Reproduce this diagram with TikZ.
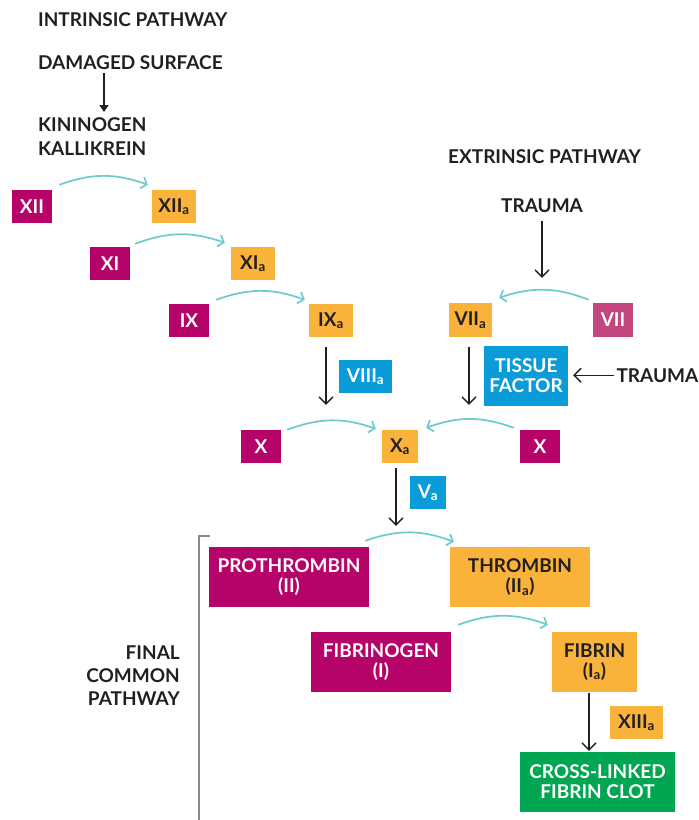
\documentclass[tikz,border=0pt]{standalone}
\usepackage{fontspec}
\setmainfont{Lato}
\usepackage{tikz}
\usetikzlibrary{arrows.meta}

\definecolor{ink}{HTML}{231F20}
\definecolor{zymogen}{HTML}{B5036A}
\definecolor{zymogenlt}{HTML}{C2477F}
\definecolor{enzyme}{HTML}{F9B33B}
\definecolor{cofactor}{HTML}{0A9CD8}
\definecolor{clotgreen}{HTML}{00A651}
\definecolor{convert}{HTML}{6DCBCB}
\definecolor{bracket}{HTML}{8A8A8A}

\tikzset{
  lbl/.style={font=\bfseries\fontsize{19}{20}\selectfont, text=ink, inner sep=0pt},
  box/.style={lbl, minimum height=33pt, align=center},
  inact/.style={box, fill=zymogen, text=white},
  act/.style={box, fill=enzyme, text=ink},
  cof/.style={box, fill=cofactor, text=white},
  conv/.style={draw=convert, line width=1.7pt, -{Straight Barb[length=5pt,width=12pt]}},
  flow/.style={draw=ink, line width=1.4pt, -{Straight Barb[length=7pt,width=14pt]}},
}

\begin{document}
\begin{tikzpicture}[x=1pt,y=-1pt]
\useasboundingbox (0,0) rectangle (699,820);

% headings
\node[lbl, anchor=base west] (intr) at (38,26.7) {INTRINSIC PATHWAY};
\node[lbl, anchor=base west] (dmg) at (38,69) {DAMAGED SURFACE};
\node[lbl, anchor=north west, align=left, font=\bfseries\fontsize{19}{24}\selectfont] (kin) at (38,117.7) {KININOGEN\\KALLIKREIN};
\node[lbl, anchor=base west] (extr) at (448,163) {EXTRINSIC PATHWAY};
\node[lbl, anchor=base] (trauma) at (542,212) {TRAUMA};
\node[lbl, anchor=base east] (trauma2) at (698.5,382) {TRAUMA};
\node[lbl, anchor=north east, align=right, font=\bfseries\fontsize{19}{23}\selectfont] (final) at (180,646) {FINAL\\COMMON\\PATHWAY};

% intrinsic cascade
\node[inact, minimum width=40pt] (xii) at (32,206.5) {XII};
\node[act, minimum width=44pt] (xiia) at (174,206.5) {XII\textsubscript{a}};
\node[inact, minimum width=40pt] (xi) at (110,263.5) {XI};
\node[act, minimum width=44pt] (xia) at (253,263.5) {XI\textsubscript{a}};
\node[inact, minimum width=40pt] (ix) at (189,320.5) {IX};
\node[act, minimum width=44pt] (ixa) at (331,320.5) {IX\textsubscript{a}};
\node[cof, minimum width=53pt] (viiia) at (365.5,376.5) {VIII\textsubscript{a}};

% extrinsic side
\node[act, minimum width=43pt, minimum height=34pt] (viia) at (470.5,320) {VII\textsubscript{a}};
\node[inact, fill=zymogenlt, minimum width=40pt, minimum height=34pt] (vii) at (613,320) {VII};
\node[cof, minimum width=84pt, minimum height=60pt] (tissue) at (526,376) {TISSUE\\FACTOR};

% factor X
\node[inact, minimum width=40pt] (xl) at (261,446.5) {X};
\node[act, minimum width=36pt] (xa) at (400,446.5) {X\textsubscript{a}};
\node[inact, minimum width=40pt] (xr) at (540,446.5) {X};
\node[cof, minimum width=36pt] (va) at (428,492.5) {V\textsubscript{a}};

% common pathway
\draw[bracket, line width=1.3pt] (210,536) -- (199,536) -- (199,820);
\node[inact, minimum width=160pt, minimum height=60pt] (pro) at (289,577) {PROTHROMBIN\\(II)};
\node[act, minimum width=140pt, minimum height=60pt] (thr) at (520,577) {THROMBIN\\(II\textsubscript{a})};
\node[inact, minimum width=140pt, minimum height=60pt] (fbg) at (381,662) {FIBRINOGEN\\(I)};
\node[act, minimum width=85pt, minimum height=60pt] (fib) at (594.5,662) {FIBRIN\\(I\textsubscript{a})};
\node[act, minimum width=53pt] (xiiia) at (636.5,722.5) {XIII\textsubscript{a}};
\node[box, fill=clotgreen, text=white, minimum width=155pt, minimum height=60pt] (clot) at (597.5,782) {CROSS-LINKED\\FIBRIN CLOT};

% conversions
\draw[conv] ([shift={(7,-5)}]xii.north east) to[bend left=20] ([shift={(-4,-5)}]xiia.north west);
\draw[conv] ([shift={(5,-3)}]xi.north east) to[bend left=20] ([shift={(-6,-4)}]xia.north west);
\draw[conv] ([shift={(7,-4)}]ix.north east) to[bend left=20] ([shift={(-4,-4)}]ixa.north west);
\draw[conv] ([shift={(6,0)}]xl.north east) to[bend left=20] ([shift={(-6,-1)}]xa.north west);
\draw[conv] ([shift={(-6,-2)}]xr.north west) to[bend right=20] ([shift={(8,-2)}]xa.north east);
\draw[conv] ([shift={(-4,-3)}]vii.north west) to[bend right=20] ([shift={(7,-5)}]viia.north east);
\draw[conv] ([shift={(-4,-6)}]pro.north east) to[bend left=20] ([shift={(4,-5)}]thr.north west);
\draw[conv] ([shift={(7,-7)}]fbg.north east) to[bend left=20] ([shift={(-4,-7)}]fib.north west);

% flow arrows
\draw[draw=ink, line width=1.4pt, -{Triangle[length=7pt,width=9pt]}, shorten <=4pt, shorten >=5.7pt] ([xshift=66pt]dmg.south west) -- ([xshift=66pt]kin.north west);
\draw[flow, shorten <=9pt, shorten >=25pt] (trauma.south) -- (trauma.south |- viia.north);
\draw[flow, shorten <=10pt, shorten >=25pt] ([xshift=-5pt]ixa.south) -- ([xshift=-5pt]ixa.south |- xa.north);
\draw[flow, shorten <=10pt, shorten >=25pt] ([xshift=-1.5pt]viia.south) -- ([xshift=-1.5pt]viia.south |- xa.north);
\draw[flow, shorten <=2pt, shorten >=5pt] (trauma2.west) -- (tissue.east |- trauma2.west);
\draw[flow, shorten <=5pt, shorten >=21pt] ([xshift=-4pt]xa.south) -- ([xshift=-4pt]xa.south |- pro.north);
\draw[flow, shorten <=1pt, shorten >=1pt] ([xshift=-5.5pt]fib.south) -- ([xshift=-5.5pt]fib.south |- clot.north);
\end{tikzpicture}
\end{document}
